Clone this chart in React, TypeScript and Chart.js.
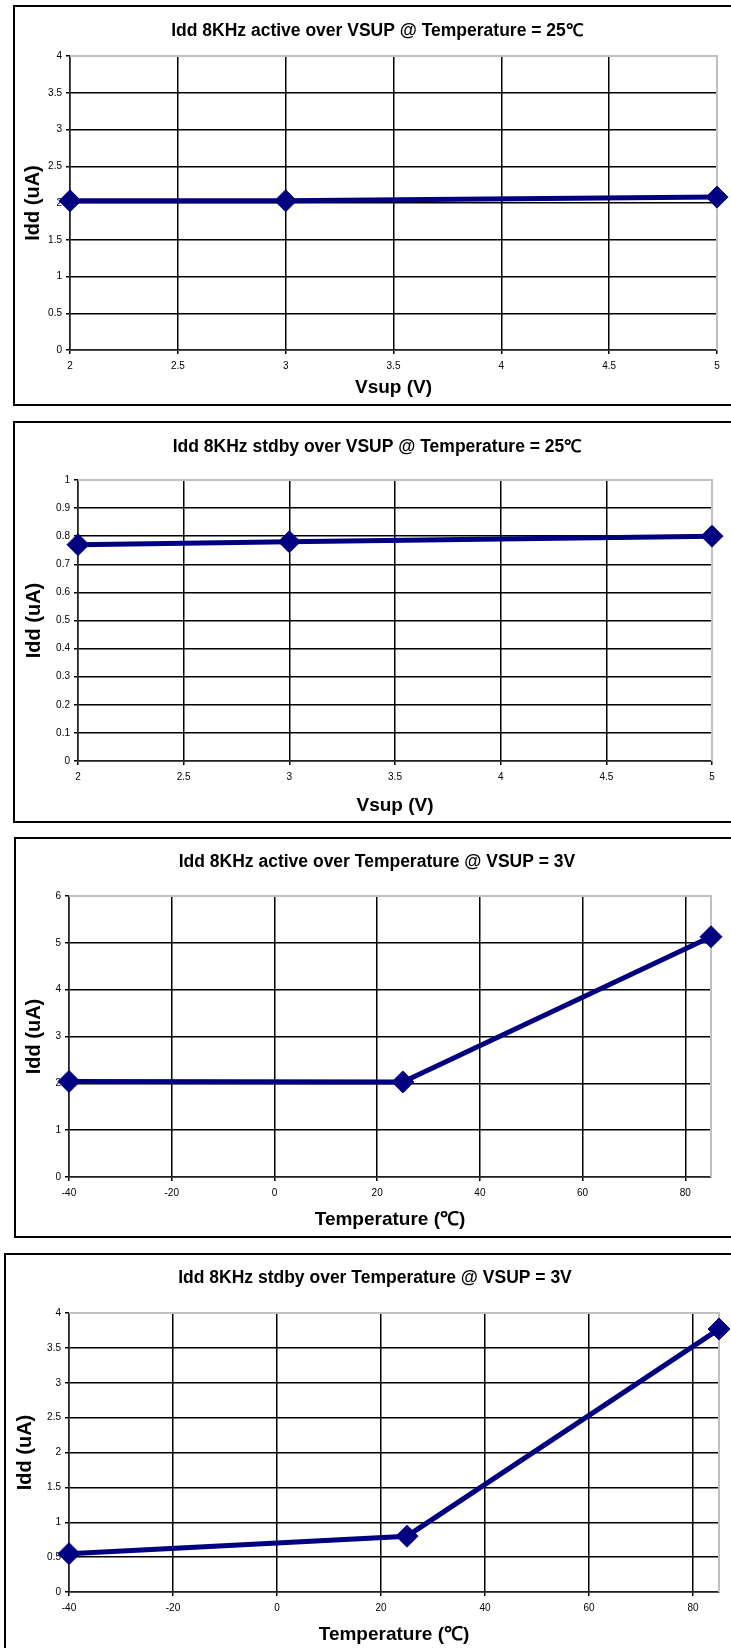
import React, { useEffect, useRef } from "react";
import { Chart, registerables } from "chart.js";

Chart.register(...registerables);

// ---- Data ----
const vsupValues = [2, 3, 5];
const iddActiveVsup = [2.03, 2.03, 2.08];
const iddStdbyVsup = [0.77, 0.78, 0.8];

const tempValues = [-40, 25, 85];
const iddActiveTemp = [2.04, 2.03, 5.13];
const iddStdbyTemp = [0.55, 0.8, 3.77];

// ---- Tick labels ----
const vsupTicks = [2, 2.5, 3, 3.5, 4, 4.5, 5];
const tempTicks = [-40, -20, 0, 20, 40, 60, 80];
const iddTicksTo4 = [0, 0.5, 1, 1.5, 2, 2.5, 3, 3.5, 4];
const iddTicksTo1 = [0, 0.1, 0.2, 0.3, 0.4, 0.5, 0.6, 0.7, 0.8, 0.9, 1];
const iddTicksTo6 = [0, 1, 2, 3, 4, 5, 6];

// ---- Texts ----
const chartTitles = [
  "Idd 8KHz active over VSUP @ Temperature = 25℃",
  "Idd 8KHz stdby over VSUP @ Temperature = 25℃",
  "Idd 8KHz active over Temperature @ VSUP = 3V",
  "Idd 8KHz stdby over Temperature @ VSUP = 3V",
];
const xTitleVsup = "Vsup (V)";
const xTitleTemp = "Temperature (℃)";
const yTitleText = "Idd (uA)";

// ---- Styles ----
const LINE_COLOR = "#000080";
const FONT = "'Liberation Sans', Arial, sans-serif";
const TITLE_SIZE = 17.5;
const X_TITLE_SIZE = 19;
const Y_TITLE_SIZE = 20;
const TICK_SIZE = 10;
const PAGE_W = 731;

type Spec = {
  title: string;
  xTitle: string;
  xs: number[];
  ys: number[];
  xTicks: number[];
  xMax: number;
  yTicks: number[];
  boxTop: number;
  boxLeft: number;
  boxH: number;
  canvasH: number;
  titleX: number;
  titleY: number;
  plotTop: number;
  plotBottom: number;
  plotLeft: number;
  plotRight: number;
  xTitleY: number;
  yTitleX: number;
};

const specs: Spec[] = [
  {
    title: chartTitles[0], xTitle: xTitleVsup, xs: vsupValues, ys: iddActiveVsup,
    xTicks: vsupTicks, xMax: 5, yTicks: iddTicksTo4,
    boxTop: 5, boxLeft: 13, boxH: 401, canvasH: 401,
    titleX: 377, titleY: 26, plotTop: 51, plotBottom: 345, plotLeft: 70, plotRight: 717,
    xTitleY: 383, yTitleX: 33,
  },
  {
    title: chartTitles[1], xTitle: xTitleVsup, xs: vsupValues, ys: iddStdbyVsup,
    xTicks: vsupTicks, xMax: 5, yTicks: iddTicksTo1,
    boxTop: 421, boxLeft: 13, boxH: 402, canvasH: 402,
    titleX: 377, titleY: 26, plotTop: 59, plotBottom: 340, plotLeft: 78, plotRight: 712,
    xTitleY: 385, yTitleX: 34,
  },
  {
    title: chartTitles[2], xTitle: xTitleTemp, xs: tempValues, ys: iddActiveTemp,
    xTicks: tempTicks, xMax: 85, yTicks: iddTicksTo6,
    boxTop: 837, boxLeft: 14, boxH: 401, canvasH: 401,
    titleX: 377, titleY: 25, plotTop: 59, plotBottom: 340, plotLeft: 69, plotRight: 711,
    xTitleY: 383, yTitleX: 34,
  },
  {
    title: chartTitles[3], xTitle: xTitleTemp, xs: tempValues, ys: iddStdbyTemp,
    xTicks: tempTicks, xMax: 85, yTicks: iddTicksTo4,
    boxTop: 1253, boxLeft: 4, boxH: 420, canvasH: 395,
    titleX: 375, titleY: 25, plotTop: 60, plotBottom: 339, plotLeft: 69, plotRight: 719,
    xTitleY: 382, yTitleX: 25,
  },
];

const plotFrame = {
  id: "plotFrame",
  beforeDatasetsDraw(chart: any) {
    const { ctx, chartArea: a } = chart;
    ctx.save();
    ctx.strokeStyle = "#c0c0c0";
    ctx.lineWidth = 2;
    ctx.beginPath();
    ctx.moveTo(a.left, a.top);
    ctx.lineTo(a.right, a.top);
    ctx.lineTo(a.right, a.bottom);
    ctx.stroke();
    ctx.restore();
  },
};

function IddChart({ spec }: { spec: Spec }) {
  const ref = useRef<HTMLCanvasElement>(null);

  useEffect(() => {
    const canvas = ref.current;
    if (!canvas) return;
    const padR = PAGE_W - spec.plotRight;
    const padL = 2 * spec.titleX - PAGE_W + padR;
    const titleLH = TITLE_SIZE * 1.2;
    const titlePadTop = spec.titleY - titleLH / 2;
    const titlePadBottom = spec.plotTop - titlePadTop - titleLH;
    const yTitleLH = Y_TITLE_SIZE * 1.2;
    const yTitlePad = spec.yTitleX - padL - yTitleLH / 2;
    const xTitleLH = X_TITLE_SIZE * 1.2;
    const xTitlePadBottom = spec.canvasH - spec.xTitleY - xTitleLH / 2;
    const yMax = spec.yTicks[spec.yTicks.length - 1];

    const chart = new Chart(canvas, {
      type: "line",
      data: {
        datasets: [
          {
            data: spec.xs.map((x, i) => ({ x, y: spec.ys[i] })),
            borderColor: LINE_COLOR,
            backgroundColor: LINE_COLOR,
            borderWidth: 5,
            tension: 0,
            pointStyle: "rectRot",
            pointRadius: 11,
            pointBorderWidth: 1,
            pointBackgroundColor: LINE_COLOR,
            pointBorderColor: LINE_COLOR,
            clip: false as any,
          },
        ],
      },
      options: {
        responsive: false,
        animation: false,
        devicePixelRatio: 1,
        layout: { padding: { left: padL, right: padR, top: 0, bottom: 0 } },
        plugins: {
          legend: { display: false },
          tooltip: { enabled: false },
          title: {
            display: true,
            text: spec.title,
            color: "#000",
            font: { family: FONT, size: TITLE_SIZE, weight: "bold" },
            padding: { top: titlePadTop, bottom: titlePadBottom },
          },
        },
        scales: {
          x: {
            type: "linear",
            min: spec.xTicks[0],
            max: spec.xMax,
            afterBuildTicks: (scale: any) => {
              scale.ticks = spec.xTicks.map((v) => ({ value: v }));
            },
            afterFit: (scale: any) => {
              scale.height = spec.canvasH - spec.plotBottom;
            },
            grid: {
              color: (ctx: any) =>
                ctx.tick && ctx.tick.value === spec.xMax ? "rgba(0,0,0,0)" : "#000",
              lineWidth: 1.5,
              tickLength: 4,
              tickColor: "#000",
            },
            border: { display: true, color: "#222", width: 1.5 },
            ticks: {
              autoSkip: false,
              maxRotation: 0,
              padding: 6,
              color: "#000",
              font: { family: FONT, size: TICK_SIZE },
              callback: (v: any) => String(v),
            },
            title: {
              display: true,
              text: spec.xTitle,
              color: "#000",
              font: { family: FONT, size: X_TITLE_SIZE, weight: "bold" },
              padding: { top: 0, bottom: xTitlePadBottom },
            },
          },
          y: {
            type: "linear",
            min: 0,
            max: yMax,
            afterBuildTicks: (scale: any) => {
              scale.ticks = spec.yTicks.map((v) => ({ value: v }));
            },
            afterFit: (scale: any) => {
              scale.width = spec.plotLeft - padL;
            },
            grid: {
              color: (ctx: any) =>
                ctx.tick && ctx.tick.value === yMax ? "rgba(0,0,0,0)" : "#000",
              lineWidth: 1.5,
              tickLength: 4,
              tickColor: "#000",
            },
            border: { display: true, color: "#222", width: 1.5 },
            ticks: {
              autoSkip: false,
              padding: 4,
              color: "#000",
              font: { family: FONT, size: TICK_SIZE },
              callback: (v: any) => String(v),
            },
            title: {
              display: true,
              text: yTitleText,
              color: "#000",
              font: { family: FONT, size: Y_TITLE_SIZE, weight: "bold" },
              padding: { top: yTitlePad, bottom: 0 },
            },
          },
        },
      } as any,
      plugins: [plotFrame],
    });

    return () => chart.destroy();
  }, [spec]);

  return (
    <>
      <canvas
        ref={ref}
        width={PAGE_W}
        height={spec.canvasH}
        style={{ position: "absolute", left: 0, top: spec.boxTop, width: PAGE_W, height: spec.canvasH }}
      />
      <div
        style={{
          position: "absolute",
          left: spec.boxLeft,
          top: spec.boxTop,
          width: PAGE_W + 20 - spec.boxLeft,
          height: spec.boxH,
          border: "2px solid #000",
          boxSizing: "border-box",
          pointerEvents: "none",
        }}
      />
    </>
  );
}

export default function App() {
  useEffect(() => {
    document.body.style.margin = "0";
  }, []);
  return (
    <div
      style={{
        position: "relative",
        width: PAGE_W,
        height: 1648,
        overflow: "hidden",
        background: "#fff",
      }}
    >
      {specs.map((s, i) => (
        <IddChart key={i} spec={s} />
      ))}
    </div>
  );
}
